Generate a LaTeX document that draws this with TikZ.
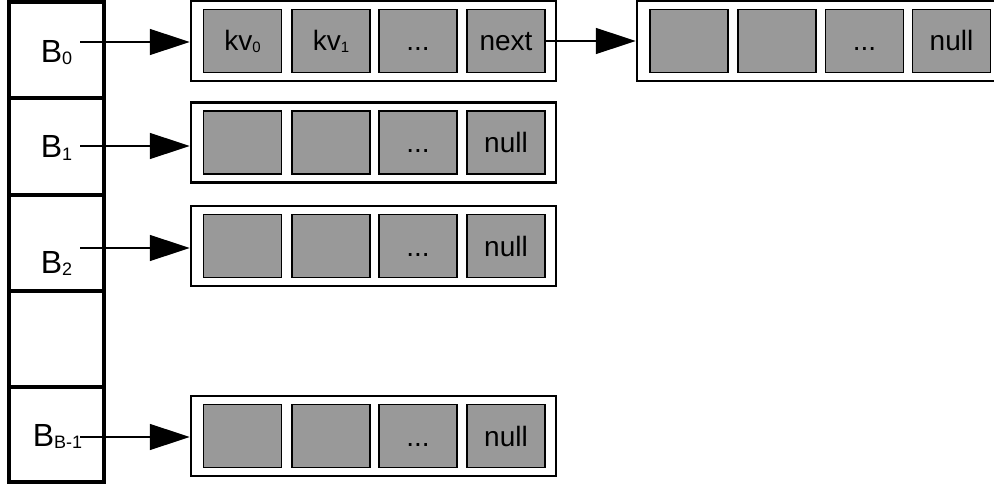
\documentclass[tikz,border=0pt]{standalone}
\usepackage{fontspec}
\setmainfont{Liberation Sans}
\usetikzlibrary{arrows.meta}
\definecolor{cellgray}{HTML}{999999}
\newcommand\sbx[2]{\raisebox{-2pt}{\fontsize{#1}{#1}\selectfont #2}}
\begin{document}
\begin{tikzpicture}[x=1pt,y=-1pt,
 colcell/.style={draw, line width=3.5pt, minimum width=95pt, inner sep=0pt},
 bucket/.style={draw, line width=2.5pt, fill=white, minimum width=365pt, minimum height=80pt, inner sep=0pt},
 slot/.style={draw, line width=1.8pt, fill=cellgray, minimum width=78pt, minimum height=63pt, inner sep=0pt},
 blabel/.style={anchor=base, inner sep=0pt, font=\fontsize{32}{34}\selectfont},
 slabel/.style={anchor=base, inner sep=0pt, font=\fontsize{28}{30}\selectfont},
 ptr/.style={line width=1.5pt, -{Triangle[length=40pt,width=26pt]}}]
\useasboundingbox (0,0) rectangle (994,484);
\clip (0,0) rectangle (994,484);
% bucket array column
\node[colcell, minimum height=96pt] (c0) at (56.5,50) {};
\node[colcell, minimum height=97pt] (c1) at (56.5,146.5) {};
\node[colcell, minimum height=96pt] (c2) at (56.5,243) {};
\node[colcell, minimum height=96pt] (c3) at (56.5,339) {};
\node[colcell, minimum height=95pt] (c4) at (56.5,434.5) {};
\node[blabel] (b0) at (56.5,63) {B\sbx{18}{0}};
\node[blabel] (b1) at (56.5,158) {B\sbx{18}{1}};
\node[blabel] (b2) at (56.5,273) {B\sbx{18}{2}};
\node[blabel] (b4) at (57.5,446) {B\sbx{18}{B-1}};
% buckets
\foreach \r/\cy in {0/41,1/142.5,2/246,3/436} {
  \node[bucket] (k\r) at (373.5,\cy) {};
  \foreach \i/\cx in {1/242.5,2/331,3/418,4/506}
    \node[slot] (k\r s\i) at (\cx,\cy) {};
}
\node[bucket] (kx) at (819.5,41) {};
\foreach \i/\cx in {1/689,2/777,3/864.5,4/951.5}
  \node[slot] (kxs\i) at (\cx,41) {};
% slot texts
\node[slabel] (t01) at ([yshift=-10pt]k0s1.center) {kv\sbx{15}{0}};
\node[slabel] (t02) at ([yshift=-10pt]k0s2.center) {kv\sbx{15}{1}};
\node[slabel] (t03) at ([yshift=-10pt]k0s3.center) {...};
\node[slabel] (t04) at ([yshift=-10pt]k0s4.center) {next};
\foreach \r in {1,2,3} {
  \node[slabel] (t\r3) at ([yshift=-10pt]k\r s3.center) {...};
  \node[slabel] (t\r4) at ([yshift=-10pt]k\r s4.center) {null};
}
\node[slabel] (tx3) at ([yshift=-10pt]kxs3.center) {...};
\node[slabel] (tx4) at ([yshift=-10pt]kxs4.center) {null};
% pointers
\coordinate (a0) at (80,42);
\coordinate (a1) at (80,146);
\coordinate (a2) at (80,248);
\coordinate (a3) at (80,437);
\draw[ptr] (a0) -- (a0 -| k0.west);
\draw[ptr] (a1) -- (a1 -| k1.west);
\draw[ptr] (a2) -- (a2 -| k2.west);
\draw[ptr] (a3) -- (a3 -| k3.west);
\draw[ptr] (k0s4.east) -- (k0s4.east -| kx.west);
\end{tikzpicture}
\end{document}
